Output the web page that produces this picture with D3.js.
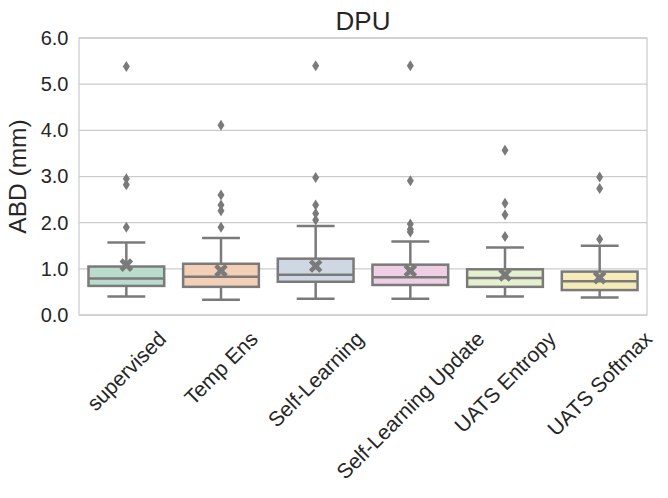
<!DOCTYPE html>
<html>
<head>
<meta charset="utf-8">
<script src="https://cdn.jsdelivr.net/npm/d3@7"></script>
<style>
  body { margin: 0; background: #fff; }
  text { font-family: "Liberation Sans", Arial, sans-serif; fill: #262626; }
</style>
</head>
<body>
<div id="chart"></div>
<script>
// values
const categories = ['supervised', 'Temp Ens', 'Self-Learning', 'Self-Learning Update', 'UATS Entropy', 'UATS Softmax'];
const q1 = [0.63, 0.61, 0.72, 0.65, 0.61, 0.54];
const medians = [0.79, 0.83, 0.87, 0.82, 0.80, 0.73];
const q3 = [1.05, 1.11, 1.22, 1.09, 0.99, 0.94];
const whiskerLow = [0.40, 0.33, 0.35, 0.35, 0.40, 0.38];
const whiskerHigh = [1.57, 1.67, 1.93, 1.59, 1.46, 1.50];
const means = [1.08, 0.96, 1.06, 0.96, 0.87, 0.81];
const outliers = [
	[1.90, 2.82, 2.95, 5.38],
	[1.90, 2.26, 2.38, 2.60, 4.11],
	[2.06, 2.20, 2.38, 2.98, 5.40],
	[1.80, 1.86, 1.97, 2.91, 5.40],
	[1.70, 2.17, 2.42, 3.57],
	[1.64, 2.74, 2.99]
];
const yTicks = [0, 1, 2, 3, 4, 5, 6];
const palette = ['#b3e2cd', '#fdcdac', '#cbd5e8', '#f4cae4', '#e6f5c9', '#fff2ae'];

const rows = categories.map((c, i) => ({
	name: c, q1: q1[i], med: medians[i], q3: q3[i],
	lo: whiskerLow[i], hi: whiskerHigh[i], mean: means[i], out: outliers[i]
}));

// seaborn-style desaturation and gray line colour
const colors = palette.map((c) => { const h = d3.hsl(c); h.s *= 0.75; return h.formatHex(); });
const lum = d3.min(palette, (c) => d3.hsl(c).l) * 0.6;
const gray = d3.rgb(lum * 255, lum * 255, lum * 255).formatHex();

var margin = { top: 38, right: 21, bottom: 183, left: 79 },
	width = 668 - margin.left - margin.right,
	height = 498 - margin.top - margin.bottom;

var svg = d3.select('#chart').append('svg')
	.attr('width', 668).attr('height', 498);
var g = svg.append('g').attr('transform', 'translate(' + margin.left + ',' + margin.top + ')');

var x = d3.scaleBand().domain(categories).range([0, width]).paddingInner(0).paddingOuter(0);
var y = d3.scaleLinear().domain([0, 6]).range([height, 0]);

// grid
g.selectAll('.grid').data(yTicks).enter().append('line')
	.attr('x1', 0).attr('x2', width)
	.attr('y1', (d) => y(d)).attr('y2', (d) => y(d))
	.attr('stroke', '#cccccc').attr('stroke-width', 1.25);

// spines
g.append('rect').attr('x', 0).attr('y', 0).attr('width', width).attr('height', height)
	.attr('fill', 'none').attr('stroke', '#cccccc').attr('stroke-width', 1.25);

// y axis
var yAxis = g.append('g').call(d3.axisLeft(y).tickValues(yTicks).tickFormat(d3.format('.1f')).tickSize(0).tickPadding(10.5));
yAxis.select('.domain').remove();
yAxis.selectAll('text').style('font-size', '20px').attr('fill', '#262626');

svg.append('text')
	.attr('transform', 'translate(' + 26 + ',' + (margin.top + height / 2) + ') rotate(-90)')
	.attr('text-anchor', 'middle')
	.style('font-size', '24.5px')
	.text('ABD (mm)');

svg.append('text')
	.attr('x', margin.left + width / 2).attr('y', 29.5)
	.attr('text-anchor', 'middle')
	.style('font-size', '26px')
	.text('DPU');

// x labels, rotated 45deg, centred on tick, top aligned
var fs = 21;
var labels = g.selectAll('.xl').data(categories).enter().append('g');
labels.each(function (d) {
	var sel = d3.select(this);
	var t = sel.append('text')
		.attr('text-anchor', 'middle')
		.attr('dy', '0.35em')
		.style('font-size', fs + 'px')
		.attr('transform', 'rotate(-45)')
		.text(d);
	var L = t.node().getComputedTextLength();
	var H = (L + fs * 0.95) * Math.SQRT1_2;
	sel.attr('transform', 'translate(' + (x(d) + x.bandwidth() / 2) + ',' + (height + 13 + H / 2) + ')');
});

var bw = x.bandwidth() * 0.8;
var lw = 2.5;
var boxes = g.selectAll('.box').data(rows).enter().append('g')
	.attr('transform', (d) => 'translate(' + (x(d.name) + x.bandwidth() / 2) + ',0)');

boxes.append('line').attr('x1', 0).attr('x2', 0)
	.attr('y1', (d) => y(d.lo)).attr('y2', (d) => y(d.q1))
	.attr('stroke', gray).attr('stroke-width', lw);
boxes.append('line').attr('x1', 0).attr('x2', 0)
	.attr('y1', (d) => y(d.q3)).attr('y2', (d) => y(d.hi))
	.attr('stroke', gray).attr('stroke-width', lw);
boxes.append('line').attr('x1', -bw / 4).attr('x2', bw / 4)
	.attr('y1', (d) => y(d.lo)).attr('y2', (d) => y(d.lo))
	.attr('stroke', gray).attr('stroke-width', lw);
boxes.append('line').attr('x1', -bw / 4).attr('x2', bw / 4)
	.attr('y1', (d) => y(d.hi)).attr('y2', (d) => y(d.hi))
	.attr('stroke', gray).attr('stroke-width', lw);
boxes.append('rect')
	.attr('x', -bw / 2).attr('width', bw)
	.attr('y', (d) => y(d.q3)).attr('height', (d) => y(d.q1) - y(d.q3))
	.attr('fill', (d, i) => colors[i])
	.attr('stroke', gray).attr('stroke-width', lw);
boxes.append('line').attr('x1', -bw / 2).attr('x2', bw / 2)
	.attr('y1', (d) => y(d.med)).attr('y2', (d) => y(d.med))
	.attr('stroke', gray).attr('stroke-width', lw);

// fliers: thin diamonds
var diamond = 'M0,-5.5L3.5,0L0,5.5L-3.5,0Z';
boxes.selectAll('.flier').data((d) => d.out).enter().append('path')
	.attr('d', diamond)
	.attr('transform', (v) => 'translate(0,' + y(v) + ')')
	.attr('fill', gray);

// mean: filled X
function xMarker(r, t) {
	var p = [[t, 0], [r, r - t], [r - t, r], [0, t], [-(r - t), r], [-r, r - t], [-t, 0], [-r, -(r - t)], [-(r - t), -r], [0, -t], [r - t, -r], [r, -(r - t)]];
	return 'M' + p.map((q) => q.join(',')).join('L') + 'Z';
}
boxes.append('path')
	.attr('d', xMarker(6.8, 3.2))
	.attr('transform', (d) => 'translate(0,' + y(d.mean) + ')')
	.attr('fill', gray);
</script>
</body>
</html>
